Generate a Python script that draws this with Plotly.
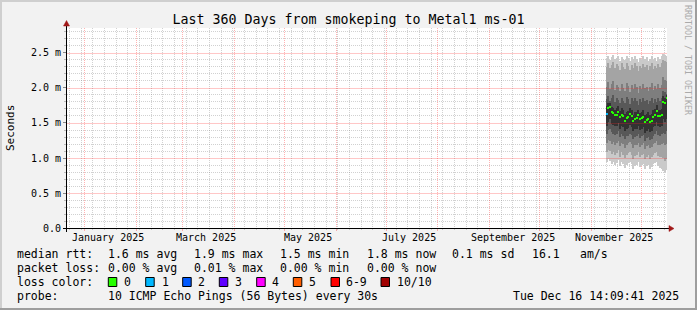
import plotly.graph_objects as go
import pandas as pd

# ---------------- data ----------------
RANGE_START = "2024-12-21 14:09:41"
RANGE_END = "2025-12-16 14:09:41"

# one consolidated bin per day (centre at noon)
DAYS = pd.date_range("2025-11-10 12:00", periods=37, freq="D")

# median rtt (ms)
MEDIAN = [1.63, 1.71, 1.73, 1.66, 1.64, 1.61, 1.62, 1.66, 1.58, 1.62,
          1.60, 1.53, 1.57, 1.58, 1.63, 1.60, 1.53, 1.56, 1.57, 1.61,
          1.55, 1.57, 1.59, 1.51, 1.54, 1.56, 1.52, 1.53, 1.59, 1.62,
          1.67, 1.60, 1.60, 1.61, 1.80, 1.78, 1.85]
# lost pings out of 10 per bin
LOSS = [1, 0, 0, 0, 0, 0, 0, 0, 0, 0,
        0, 0, 0, 0, 0, 0, 0, 0, 0, 0,
        0, 0, 0, 0, 0, 0, 0, 0, 0, 0,
        0, 0, 0, 0, 0, 0, 0]

# sorted ping values (ms), ping 1 = fastest ... ping 10 = slowest
PING1 = [0.94, 0.98, 0.96, 0.92, 0.95, 0.90, 0.93, 0.97, 0.88, 0.94,
         0.91, 0.86, 0.90, 0.93, 0.95, 0.91, 0.85, 0.89, 0.90, 0.94,
         0.87, 0.90, 0.92, 0.84, 0.88, 0.90, 0.85, 0.87, 0.91, 0.93,
         0.95, 0.88, 0.86, 0.85, 0.82, 0.80, 0.83]
PING2 = [1.08, 1.12, 1.10, 1.06, 1.09, 1.04, 1.07, 1.11, 1.02, 1.08,
         1.05, 1.00, 1.04, 1.07, 1.09, 1.05, 0.99, 1.03, 1.04, 1.08,
         1.01, 1.04, 1.06, 0.98, 1.02, 1.04, 0.99, 1.01, 1.05, 1.07,
         1.09, 1.03, 1.01, 1.02, 1.00, 0.96, 0.98]
PING3 = [1.22, 1.26, 1.24, 1.20, 1.23, 1.19, 1.21, 1.25, 1.17, 1.22,
         1.20, 1.15, 1.19, 1.21, 1.23, 1.20, 1.14, 1.18, 1.19, 1.22,
         1.16, 1.19, 1.21, 1.13, 1.17, 1.19, 1.14, 1.16, 1.20, 1.22,
         1.24, 1.19, 1.18, 1.20, 1.22, 1.18, 1.20]
PING4 = [1.34, 1.40, 1.42, 1.37, 1.35, 1.33, 1.34, 1.38, 1.30, 1.35,
         1.32, 1.27, 1.31, 1.32, 1.35, 1.33, 1.27, 1.30, 1.31, 1.34,
         1.29, 1.31, 1.33, 1.25, 1.28, 1.30, 1.26, 1.27, 1.32, 1.34,
         1.38, 1.33, 1.32, 1.34, 1.36, 1.34, 1.38]
PING5 = [1.46, 1.52, 1.55, 1.49, 1.47, 1.45, 1.46, 1.50, 1.42, 1.46,
         1.44, 1.38, 1.42, 1.43, 1.47, 1.44, 1.38, 1.41, 1.42, 1.45,
         1.40, 1.42, 1.44, 1.36, 1.39, 1.41, 1.37, 1.38, 1.44, 1.46,
         1.51, 1.45, 1.44, 1.46, 1.55, 1.52, 1.56]
PING6 = [1.74, 1.78, 1.79, 1.73, 1.72, 1.69, 1.71, 1.74, 1.67, 1.71,
         1.69, 1.63, 1.66, 1.67, 1.71, 1.68, 1.62, 1.65, 1.66, 1.69,
         1.64, 1.66, 1.68, 1.61, 1.63, 1.65, 1.62, 1.63, 1.68, 1.70,
         1.75, 1.69, 1.69, 1.70, 1.88, 1.86, 1.90]
PING7 = [1.84, 1.88, 1.82, 1.86, 1.90, 1.80, 1.85, 1.83, 1.78, 1.86,
         1.82, 1.79, 1.87, 1.84, 1.77, 1.85, 1.81, 1.86, 1.82, 1.76,
         1.84, 1.80, 1.85, 1.81, 1.83, 1.77, 1.82, 1.86, 1.79, 1.84,
         1.80, 1.86, 1.82, 1.85, 1.96, 1.94, 1.92]
PING8 = [2.02, 2.08, 1.98, 2.05, 2.10, 1.97, 2.04, 2.01, 1.95, 2.06,
         2.00, 1.96, 2.07, 2.03, 1.94, 2.04, 1.99, 2.06, 2.01, 1.93,
         2.03, 1.98, 2.05, 2.00, 2.02, 1.95, 2.01, 2.07, 1.97, 2.03,
         1.99, 2.05, 2.00, 2.04, 2.15, 2.12, 2.10]
PING9 = [2.30, 2.36, 2.28, 2.33, 2.37, 2.29, 2.34, 2.31, 2.26, 2.35,
         2.30, 2.27, 2.36, 2.32, 2.25, 2.33, 2.29, 2.35, 2.31, 2.24,
         2.32, 2.28, 2.34, 2.30, 2.33, 2.26, 2.31, 2.36, 2.27, 2.32,
         2.28, 2.34, 2.30, 2.35, 2.40, 2.38, 2.37]
PING10 = [2.42, 2.45, 2.40, 2.44, 2.47, 2.41, 2.43, 2.46, 2.38, 2.44,
          2.42, 2.40, 2.45, 2.43, 2.39, 2.44, 2.41, 2.46, 2.42, 2.37,
          2.43, 2.40, 2.45, 2.41, 2.44, 2.38, 2.42, 2.46, 2.40, 2.43,
          2.39, 2.44, 2.41, 2.45, 2.48, 2.47, 2.46]

Y_MAX = 2.857
Y_TICKS = [0.0, 0.5, 1.0, 1.5, 2.0, 2.5]
Y_TICK_TEXT = ["0.0", "0.5 m", "1.0 m", "1.5 m", "2.0 m", "2.5 m"]
Y_MINOR = [0.1, 0.2, 0.3, 0.4, 0.6, 0.7, 0.8, 0.9, 1.1, 1.2, 1.3, 1.4,
           1.6, 1.7, 1.8, 1.9, 2.1, 2.2, 2.3, 2.4, 2.6, 2.7, 2.8]

X_LABEL_DATES = ["2025-01-15", "2025-03-15", "2025-05-15",
                 "2025-07-15", "2025-09-15", "2025-11-15"]
X_LABEL_TEXT = ["January 2025", "March 2025", "May 2025",
                "July 2025", "September 2025", "November 2025"]

TITLE = "Last 360 Days from smokeping to Metal1 ms-01"
LOSS_LABELS = ["0", "1", "2", "3", "4", "5", "6-9", "10/10"]
LOSS_COLORS = ["#26ff00", "#00b8ff", "#0059ff", "#5e00ff",
               "#ff00ff", "#ff5e00", "#ff0000", "#a10000"]
ROW_RTT = ["median rtt:", "1.6 ms avg", "1.9 ms max", "1.5 ms min",
           "1.8 ms now", "0.1 ms sd", "16.1", "am/s"]
ROW_LOSS = ["packet loss:", "0.00 % avg", "0.01 % max", "0.00 % min",
            "0.00 % now"]
PROBE_LABEL = "probe:"
PROBE_TEXT = "10 ICMP Echo Pings (56 Bytes) every 30s"
STAMP = "Tue Dec 16 14:09:41 2025"

# ---------------- layout geometry (pixels) ----------------
W, H = 697, 310
PL, PR, PT, PB = 67, 667, 28, 228
FONT = "DejaVu Sans Mono"
PX_PER_MS = (PB - PT) / Y_MAX


def px(x):
    return (x - PL) / (PR - PL)


def py(y):
    return (PB - y) / (PB - PT)


fig = go.Figure()

DAY_MS = 86400000
SMOKE = [(PING1, PING10, "#cacaca"), (PING2, PING9, "#a4a4a4"),
         (PING3, PING8, "#7e7e7e"), (PING4, PING7, "#585858"),
         (PING5, PING6, "#323232")]
for lo, hi, col in SMOKE:
    fig.add_trace(go.Bar(
        x=DAYS, base=lo, y=[h - l for l, h in zip(lo, hi)],
        width=DAY_MS, marker=dict(color=col, line=dict(width=0)),
        hoverinfo="skip", showlegend=False))

swidth = 1 / PX_PER_MS
fig.add_trace(go.Bar(
    x=DAYS, base=[m - swidth for m in MEDIAN], y=[2 * swidth] * len(MEDIAN),
    width=DAY_MS,
    marker=dict(color=[LOSS_COLORS[min(l, 6) if l < 10 else 7] for l in LOSS],
                line=dict(width=0)),
    hoverinfo="skip", showlegend=False))

GRID_MAJOR_X = "rgba(255,30,30,0.34)"
GRID_MAJOR_Y = "rgba(255,40,40,0.26)"
GRID_MINOR = "rgba(128,128,128,0.36)"
DASH = "1px,1px"

fig.update_layout(
    width=W, height=H,
    margin=dict(l=PL, r=W - PR, t=PT, b=H - PB),
    paper_bgcolor="#f2f2f2", plot_bgcolor="#ffffff",
    barmode="overlay", bargap=0, showlegend=False,
    font=dict(family=FONT, color="#000000"),
    title=dict(text=TITLE, x=0.5, xref="container", xanchor="center",
               y=1 - 19 / H, yref="container", yanchor="middle",
               font=dict(family=FONT, size=13.3, color="#000000")),
    xaxis=dict(type="date", range=[RANGE_START, RANGE_END],
               showticklabels=False, dtick="M1", tick0="2025-01-01",
               showgrid=True, gridcolor=GRID_MAJOR_X, griddash=DASH,
               gridwidth=1, ticks="outside", ticklen=2,
               tickcolor=GRID_MAJOR_X,
               minor=dict(dtick=7 * DAY_MS, tick0="2024-12-23",
                          showgrid=True, gridcolor=GRID_MINOR,
                          griddash=DASH, ticks="outside", ticklen=1,
                          tickcolor=GRID_MINOR),
               zeroline=False, showline=False),
    yaxis=dict(range=[0, Y_MAX], tickmode="array",
               tickvals=Y_TICKS, ticktext=Y_TICK_TEXT,
               showgrid=False,
               ticks="outside", ticklen=3, tickcolor="#888888",
               minor=dict(tickmode="array", tickvals=Y_MINOR, showgrid=True,
                          gridcolor=GRID_MINOR, griddash=DASH,
                          ticks="outside", ticklen=2, tickcolor="#bbbbbb"),
               zeroline=False, showline=False,
               tickfont=dict(family=FONT, size=10, color="#000000")),
)

shapes = []
# outer 3D frame
shapes.append(dict(type="rect", xref="paper", yref="paper",
                   x0=px(0), x1=px(2), y0=py(H), y1=py(0),
                   fillcolor="#cfcfcf", line=dict(width=0), layer="below"))
shapes.append(dict(type="rect", xref="paper", yref="paper",
                   x0=px(0), x1=px(W), y0=py(2), y1=py(0),
                   fillcolor="#cfcfcf", line=dict(width=0), layer="below"))
shapes.append(dict(type="rect", xref="paper", yref="paper",
                   x0=px(W - 2), x1=px(W), y0=py(H), y1=py(0),
                   fillcolor="#9e9e9e", line=dict(width=0), layer="below"))
shapes.append(dict(type="rect", xref="paper", yref="paper",
                   x0=px(0), x1=px(W), y0=py(H), y1=py(H - 2),
                   fillcolor="#9e9e9e", line=dict(width=0), layer="below"))
# major horizontal grid (centred on a pixel row), drawn over the smoke
for v in Y_TICKS[1:]:
    yv = v - 0.5 / PX_PER_MS
    shapes.append(dict(type="line", xref="paper", yref="y",
                       x0=0, x1=1, y0=yv, y1=yv, layer="above",
                       line=dict(color=GRID_MAJOR_Y, width=1)))
# axes with arrows
shapes.append(dict(type="line", xref="paper", yref="paper",
                   x0=px(63), x1=px(670), y0=py(228.5), y1=py(228.5),
                   line=dict(color="#000000", width=1)))
shapes.append(dict(type="line", xref="paper", yref="paper",
                   x0=px(66.5), x1=px(66.5), y0=py(232), y1=py(24),
                   line=dict(color="#000000", width=1)))
ARROW = "#a01818"
shapes.append(dict(type="path", xref="paper", yref="paper",
                   path=f"M {px(669)} {py(225.5)} L {px(674)} {py(228.5)} "
                        f"L {px(669)} {py(231.5)} Z",
                   fillcolor=ARROW, line=dict(color=ARROW, width=0.5)))
shapes.append(dict(type="path", xref="paper", yref="paper",
                   path=f"M {px(63.5)} {py(26)} L {px(66.5)} {py(20.5)} "
                        f"L {px(69.5)} {py(26)} Z",
                   fillcolor=ARROW, line=dict(color=ARROW, width=0.5)))

annotations = []


def text(s, x, y, anchor="left", size=11.5, color="#000000", angle=0,
         xref="paper"):
    annotations.append(dict(text=s, x=px(x) if xref == "paper" else x,
                            y=py(y), xref=xref,
                            yref="paper", xanchor=anchor, yanchor="middle",
                            showarrow=False, textangle=angle,
                            borderpad=0,
                            font=dict(family=FONT, size=size, color=color)))


for d, lab in zip(X_LABEL_DATES, X_LABEL_TEXT):
    text(lab, d, 237.7, anchor="center", size=10, xref="x")

text("Seconds", 10, 128, anchor="center", size=11, angle=-90)
text("RRDTOOL / TOBI OETIKER", 688, 60, anchor="center", size=8.3,
     color="#aaaaaa", angle=90)

ROW_Y = [254.3, 268, 282, 296]
RTT_X = [16, 107.3, 193.3, 279.3, 365.7, 451, 530.7, 579.3]
for s, x in zip(ROW_RTT, RTT_X):
    text(s, x, ROW_Y[0])
for s, x in zip(ROW_LOSS, RTT_X):
    text(s, x, ROW_Y[1])
text("loss color:", 16, ROW_Y[2])
BOX_X = [108.3, 145.7, 182.7, 219.3, 256.7, 293.3, 331, 381]
LBL_X = [123.3, 161, 197.3, 234.3, 271, 308.3, 345, 396]
for lab, col, bx, lx in zip(LOSS_LABELS, LOSS_COLORS, BOX_X, LBL_X):
    shapes.append(dict(type="rect", xref="paper", yref="paper",
                       x0=px(bx), x1=px(bx + 8.5), y0=py(286.5), y1=py(277.5),
                       fillcolor=col, line=dict(color="#000000", width=1)))
    text(lab, lx, ROW_Y[2])
text(PROBE_LABEL, 16, ROW_Y[3])
text(PROBE_TEXT, 107.3, ROW_Y[3])
text(STAMP, 680, ROW_Y[3], anchor="right")

fig.update_layout(shapes=shapes, annotations=annotations)
fig.write_html("out.html")
